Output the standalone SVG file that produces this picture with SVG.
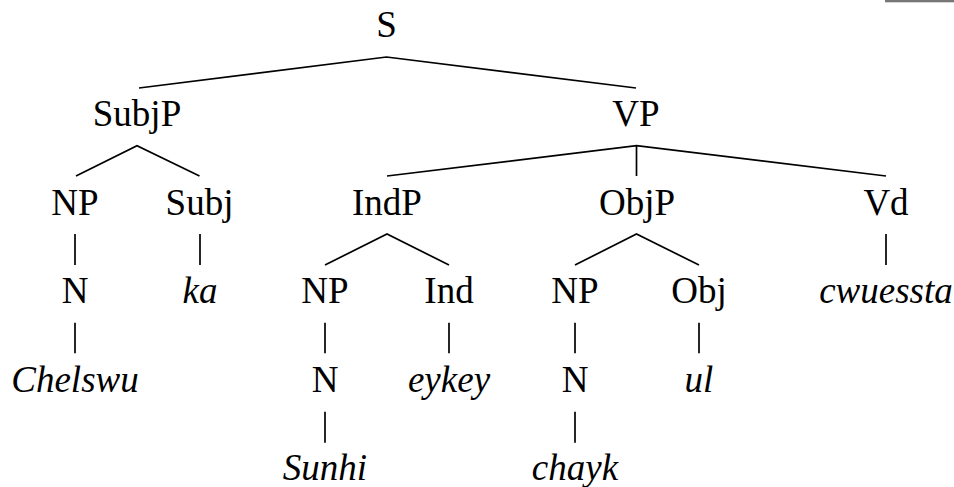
<svg xmlns="http://www.w3.org/2000/svg" width="954" height="487" viewBox="0 0 954 487">
<style>
text{font-family:'Liberation Serif','Tinos','Times New Roman','DejaVu Serif',serif;font-size:37px;fill:#000;text-anchor:middle}
.it{font-style:italic}
.edge{stroke:#000;stroke-width:1.7;fill:none}
</style>
<rect width="954" height="487" fill="#fff"/>
<rect x="885" y="0" width="69" height="2.3" fill="#777"/>
<g id="connectors">
<polyline class="edge" points="139,88 386.5,57 636,88"/>
<polyline class="edge" points="76,176 137,145.7 199.5,176"/>
<polyline class="edge" points="387,176 636.5,145.7 886,176"/>
<line class="edge" x1="636.5" y1="145.7" x2="636.5" y2="176"/>
<line class="edge" x1="75" y1="234" x2="75" y2="265"/>
<line class="edge" x1="200" y1="234" x2="200" y2="265"/>
<polyline class="edge" points="325,265 387,234 449,265"/>
<polyline class="edge" points="575,265 636.5,234 699,265"/>
<line class="edge" x1="886" y1="234" x2="886" y2="265"/>
<line class="edge" x1="75" y1="322.7" x2="75" y2="353.3"/>
<line class="edge" x1="325" y1="322.7" x2="325" y2="353.3"/>
<line class="edge" x1="449" y1="322.7" x2="449" y2="353.3"/>
<line class="edge" x1="575" y1="322.7" x2="575" y2="353.3"/>
<line class="edge" x1="699" y1="322.7" x2="699" y2="353.3"/>
<line class="edge" x1="325" y1="411.7" x2="325" y2="442.7"/>
<line class="edge" x1="575" y1="411.7" x2="575" y2="442.7"/>
</g>
<g font-family="Liberation Serif, serif">
<g id="S"><text x="386.5" y="37">S</text></g>
<g id="SubjP"><text x="137" y="126">SubjP</text></g>
<g id="VP"><text x="636" y="126">VP</text></g>
<g id="NP1"><text x="75" y="215">NP</text></g>
<g id="Subj"><text x="199.5" y="215">Subj</text></g>
<g id="IndP"><text x="387" y="215">IndP</text></g>
<g id="ObjP"><text x="637" y="215">ObjP</text></g>
<g id="Vd"><text x="886" y="215">Vd</text></g>
<g id="N1"><text x="75" y="303.3">N</text></g>
<g id="ka"><text class="it" x="200" y="303.3">ka</text></g>
<g id="NP2"><text x="325" y="303.3">NP</text></g>
<g id="Ind"><text x="449" y="303.3">Ind</text></g>
<g id="NP3"><text x="575" y="303.3">NP</text></g>
<g id="Obj"><text x="699" y="303.3">Obj</text></g>
<g id="cwuessta"><text class="it" x="886" y="303.3">cwuessta</text></g>
<g id="Chelswu"><text class="it" x="75" y="391.7">Chelswu</text></g>
<g id="N2"><text x="325" y="391.7">N</text></g>
<g id="eykey"><text class="it" x="449" y="391.7">eykey</text></g>
<g id="N3"><text x="575" y="391.7">N</text></g>
<g id="ul"><text class="it" x="699" y="391.7">ul</text></g>
<g id="Sunhi"><text class="it" x="325" y="480">Sunhi</text></g>
<g id="chayk"><text class="it" x="575" y="480">chayk</text></g>
</g>
</svg>
